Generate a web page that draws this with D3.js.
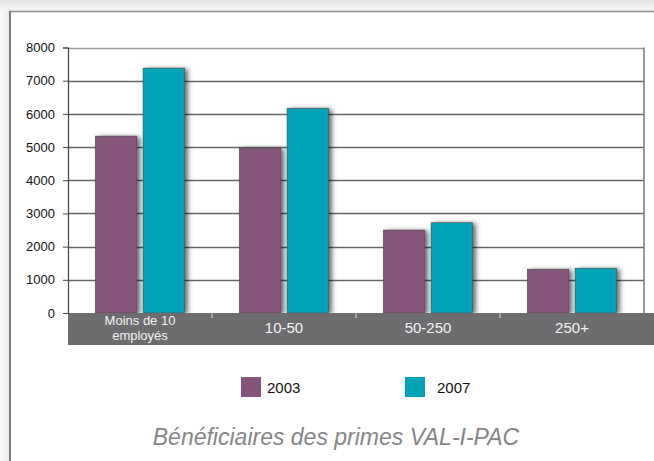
<!DOCTYPE html>
<html>
<head>
<meta charset="utf-8">
<script src="https://cdn.jsdelivr.net/npm/d3@7"></script>
<style>
  body { margin: 0; background: #fff; }
  svg { display: block; font-family: "Liberation Sans", Arial, Helvetica, sans-serif; }
</style>
</head>
<body>
<svg id="chart"></svg>
<script>
// data
var categories = ["Moins de 10\nemployés", "10-50", "50-250", "250+"];
var series = ["2003", "2007"];
var values2003 = [5330, 4970, 2500, 1320];
var values2007 = [7380, 6170, 2720, 1350];
var yTicks = [0, 1000, 2000, 3000, 4000, 5000, 6000, 7000, 8000];
var title = "Bénéficiaires des primes VAL-I-PAC";

var colors = { "2003": "#86547a", "2007": "#00a3b8" };

var width = 654;
var height = 461;
var plot = { left: 68, right: 644, top: 47.5, bottom: 313 };

var rows = categories.map(function(c, i) {
  return { cat: c, "2003": values2003[i], "2007": values2007[i] };
});

var svg = d3.select('#chart')
    .attr('width', width)
    .attr('height', height);

var defs = svg.append('defs');

var topGrad = defs.append('linearGradient')
    .attr('id', 'topGrad')
    .attr('x1', 0).attr('y1', 0).attr('x2', 0).attr('y2', 1);
topGrad.append('stop').attr('offset', '0%').attr('stop-color', '#e4e4e4');
topGrad.append('stop').attr('offset', '100%').attr('stop-color', '#f7f7f7');

var leftGrad = defs.append('linearGradient')
    .attr('id', 'leftGrad')
    .attr('x1', 0).attr('y1', 0).attr('x2', 1).attr('y2', 0);
leftGrad.append('stop').attr('offset', '0%').attr('stop-color', '#fbfbfb');
leftGrad.append('stop').attr('offset', '100%').attr('stop-color', '#e8e8e8');

var shadow = defs.append('filter')
    .attr('id', 'barShadow')
    .attr('x', '-20%').attr('y', '-10%')
    .attr('width', '150%').attr('height', '130%');
shadow.append('feDropShadow')
    .attr('dx', 3).attr('dy', 1)
    .attr('stdDeviation', 2.8)
    .attr('flood-color', '#000')
    .attr('flood-opacity', 0.6);

// page frame
svg.append('rect')
    .attr('x', 0).attr('y', 0)
    .attr('width', width).attr('height', 11)
    .attr('fill', 'url(#topGrad)');
svg.append('rect')
    .attr('x', 0).attr('y', 11)
    .attr('width', 10).attr('height', height - 11)
    .attr('fill', 'url(#leftGrad)');
svg.append('line')
    .attr('x1', 9).attr('x2', width)
    .attr('y1', 11.5).attr('y2', 11.5)
    .attr('stroke', '#8c8c8c').attr('stroke-width', 1.5);
svg.append('line')
    .attr('x1', 10).attr('x2', 10)
    .attr('y1', 11).attr('y2', height)
    .attr('stroke', '#7a7a7a').attr('stroke-width', 2);

// scales
var y = d3.scaleLinear()
    .domain([0, 8000])
    .range([plot.bottom, plot.top]);

var x0 = d3.scaleBand()
    .domain(categories)
    .range([plot.left, plot.right])
    .paddingInner(0.38)
    .paddingOuter(0.19);

var x1 = d3.scaleBand()
    .domain(series)
    .range([0, x0.bandwidth()])
    .paddingInner(0.13);

// gridlines
svg.append('g')
    .selectAll('line')
    .data(yTicks.filter(d => d > 0))
    .enter()
  .append('line')
    .attr('x1', plot.left)
    .attr('x2', plot.right)
    .attr('y1', d => Math.round(y(d)) + 0.5)
    .attr('y2', d => Math.round(y(d)) + 0.5)
    .attr('stroke', d => d === 8000 ? '#9a9a9a' : '#666')
    .attr('stroke-width', 1.5);

// right border of plot
svg.append('line')
    .attr('x1', plot.right).attr('x2', plot.right)
    .attr('y1', plot.top).attr('y2', plot.bottom)
    .attr('stroke', '#777').attr('stroke-width', 1.5);

// bars
var groups = svg.append('g')
    .selectAll('g')
    .data(rows)
    .enter()
  .append('g')
    .attr('transform', d => 'translate(' + x0(d.cat) + ',0)');

groups.selectAll('rect')
    .data(d => series.map(s => ({ key: s, value: d[s] })))
    .enter()
  .append('rect')
    .attr('x', d => x1(d.key))
    .attr('y', d => y(d.value))
    .attr('width', x1.bandwidth())
    .attr('height', d => y(0) - y(d.value))
    .attr('fill', d => colors[d.key])
    .attr('stroke', '#4a4a4a')
    .attr('stroke-width', 0.6)
    .attr('filter', 'url(#barShadow)');

// category band
svg.append('rect')
    .attr('x', plot.left).attr('y', plot.bottom)
    .attr('width', width - plot.left).attr('height', 32)
    .attr('fill', '#6d6d6f');

svg.append('g')
    .selectAll('line')
    .data(categories.slice(1))
    .enter()
  .append('line')
    .attr('x1', d => x0(d) - x0.step() * x0.paddingInner() / 2)
    .attr('x2', d => x0(d) - x0.step() * x0.paddingInner() / 2)
    .attr('y1', plot.bottom)
    .attr('y2', plot.bottom + 5)
    .attr('stroke', '#d8d8d8')
    .attr('stroke-width', 1);

var catLabels = svg.append('g')
    .selectAll('text')
    .data(categories)
    .enter()
  .append('text')
    .attr('text-anchor', 'middle')
    .attr('fill', '#f2f2f2')
    .attr('font-size', d => d.indexOf('\n') >= 0 ? 13 : 15)
    .attr('transform', d => 'translate(' + (x0(d) + x0.bandwidth() / 2) + ',0)');

catLabels.each(function(d) {
  var lines = d.split('\n');
  var t = d3.select(this);
  if (lines.length === 1) {
    t.append('tspan').attr('x', 0).attr('y', 333).text(lines[0]);
  } else {
    lines.forEach(function(l, i) {
      t.append('tspan').attr('x', 0).attr('y', 324.5 + i * 15).text(l);
    });
  }
});

// y axis
var yAxis = d3.axisLeft(y)
    .tickValues(yTicks)
    .tickSize(5)
    .tickPadding(8)
    .tickFormat(d3.format('d'));

var axisG = svg.append('g')
    .attr('transform', 'translate(' + plot.left + ',0)')
    .call(yAxis);

axisG.select('.domain')
    .attr('stroke', '#444')
    .attr('stroke-width', 1.2);
axisG.selectAll('.tick line')
    .attr('stroke', '#444');
axisG.selectAll('.tick text')
    .attr('font-size', 13)
    .attr('fill', '#111')
    .attr('font-family', '"Liberation Sans", Arial, sans-serif');

// legend
var legendX = [241, 405];
var legend = svg.append('g')
    .selectAll('g')
    .data(series)
    .enter()
  .append('g')
    .attr('transform', (d, i) => 'translate(' + legendX[i] + ',377)');

legend.append('rect')
    .attr('width', 20)
    .attr('height', 20)
    .attr('fill', d => colors[d]);

legend.append('text')
    .attr('x', (d, i) => i === 0 ? 26 : 32)
    .attr('y', 16)
    .attr('font-size', 15)
    .attr('fill', '#111')
    .text(d => d);

// title
svg.append('text')
    .attr('x', 336)
    .attr('y', 445)
    .attr('text-anchor', 'middle')
    .attr('font-size', 23)
    .attr('font-style', 'italic')
    .attr('fill', '#858585')
    .text(title);
</script>
</body>
</html>
